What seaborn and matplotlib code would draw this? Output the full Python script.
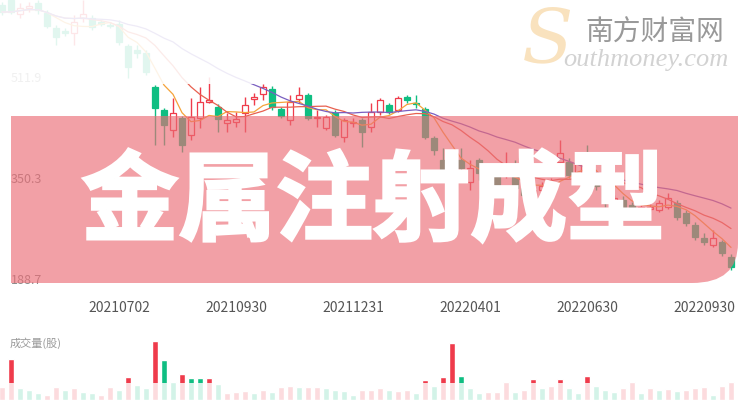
import numpy as np
import pandas as pd
import matplotlib
matplotlib.use("Agg")
import matplotlib.pyplot as plt
import matplotlib.patheffects as pe
from matplotlib.path import Path
from matplotlib.patches import PathPatch, Rectangle
import seaborn as sns

# weekly K-line (price)
opens = [627, 635, 613, 622, 630, 614, 590, 585, 582, 606,
         606, 600, 595, 597, 561, 555, 550, 496, 459, 427,
         446, 419, 446, 472, 464, 438, 440, 454, 477, 485,
         493, 461, 443, 477, 483, 446, 430, 454, 416, 438,
         443, 432, 456, 467, 459, 480, 470, 461, 414, 379,
         387, 379, 344, 379, 350, 355, 360, 371, 334, 323,
         331, 334, 376, 376, 355, 379, 353, 339, 310, 315,
         307, 301, 301, 299, 304, 310, 294, 275, 254, 243,
         248, 224]
closes = [616, 616, 622, 625, 619, 593, 576, 582, 600, 613,
          592, 597, 593, 568, 528, 550, 520, 462, 435, 454,
          403, 448, 472, 475, 445, 443, 445, 467, 480, 496,
          464, 449, 472, 483, 446, 448, 448, 419, 443, 440,
          424, 456, 475, 456, 478, 475, 469, 416, 395, 363,
          371, 366, 366, 358, 360, 339, 368, 334, 323, 331,
          337, 344, 390, 355, 374, 358, 337, 310, 318, 304,
          299, 304, 304, 310, 318, 288, 278, 256, 248, 254,
          230, 208]
highs = [632, 640, 630, 632, 635, 619, 595, 590, 611, 635,
         611, 603, 600, 603, 565, 563, 555, 499, 462, 478,
         449, 478, 496, 512, 469, 454, 456, 480, 486, 501,
         497, 464, 483, 496, 486, 459, 451, 459, 446, 446,
         446, 470, 478, 470, 481, 483, 483, 464, 417, 398,
         395, 398, 379, 382, 366, 360, 392, 379, 339, 337,
         344, 350, 411, 382, 379, 403, 358, 344, 323, 321,
         312, 309, 309, 315, 326, 315, 299, 280, 262, 267,
         251, 229]
lows = [611, 613, 606, 616, 613, 590, 563, 577, 563, 600,
        587, 593, 590, 563, 510, 542, 515, 403, 403, 416,
        392, 411, 430, 470, 424, 424, 432, 424, 467, 475,
        459, 446, 435, 470, 443, 432, 427, 416, 408, 432,
        400, 424, 451, 453, 456, 470, 462, 413, 387, 355,
        360, 355, 331, 347, 344, 331, 350, 323, 315, 318,
        326, 328, 371, 350, 350, 355, 331, 304, 305, 299,
        294, 297, 297, 296, 301, 283, 273, 251, 243, 240,
        225, 203]

# volume (arbitrary units) and its colour (1 = red, 0 = green)
volumes = [13, 41, 12, 10, 7, 5, 13, 10, 12, 8,
           7, 5, 13, 10, 23, 15, 12, 59, 40, 18,
           26, 22, 22, 22, 16, 7, 8, 9, 7, 10,
           8, 13, 14, 13, 13, 13, 12, 10, 9, 5,
           10, 10, 12, 10, 9, 10, 7, 20, 14, 23,
           57, 24, 12, 7, 8, 8, 18, 8, 10, 21,
           12, 14, 21, 12, 7, 24, 14, 10, 8, 12,
           18, 7, 12, 10, 11, 9, 10, 12, 13, 5,
           14, 18]
vol_up = [1, 1, 0, 0, 0, 1, 1, 0, 1, 0,
          0, 1, 1, 0, 1, 0, 0, 1, 0, 0,
          1, 0, 0, 1, 0, 1, 1, 1, 0, 1,
          0, 1, 1, 0, 1, 1, 0, 0, 0, 0,
          1, 1, 1, 0, 1, 1, 0, 1, 0, 1,
          1, 0, 0, 0, 1, 1, 1, 0, 1, 1,
          0, 1, 1, 0, 0, 1, 0, 0, 0, 1,
          1, 0, 1, 0, 1, 0, 1, 1, 1, 0,
          1, 1]

tick_pos = [13, 26, 39, 52, 65, 78]
tick_labels = ["20210702", "20210930", "20211231", "20220401", "20220630", "20220930"]
price_ticks = [511.9, 350.3, 188.7]
title = "金属注射成型"

RED = "#EF3B4B"
GREEN = "#0FBE82"

sns.set_theme(style="white")
plt.rcParams['font.family'] = ['Noto Sans CJK SC', 'DejaVu Sans']

df = pd.DataFrame({"open": opens, "close": closes, "high": highs, "low": lows,
                   "vol": volumes})
df["idx"] = np.arange(len(df))
df["dir"] = np.where(np.array(vol_up) == 1, "up", "down")
df["ma5"] = df["close"].rolling(5, min_periods=1).mean()
df["ma10"] = df["close"].rolling(10, min_periods=1).mean()
df["ma20"] = df["close"].rolling(20, min_periods=1).mean()

fig = plt.figure(figsize=(7.5, 4), dpi=100, facecolor="white")
xlim = (-2 / 9, 748 / 9)

# price panel
ax = fig.add_axes([0, 1 - 283 / 400, 1, 283 / 400])
ax.set_facecolor("none")
up = df["close"] >= df["open"]
cols = np.where(up, RED, GREEN)
ax.vlines(df["idx"], df["low"], df["high"], colors=cols, lw=1, zorder=2)
bottoms = np.minimum(df["open"], df["close"])
heights = np.maximum((df["close"] - df["open"]).abs(), 1.2)
ax.bar(df["idx"], heights, bottom=bottoms, width=0.74,
       color=np.where(up, "white", GREEN), edgecolor=cols, linewidth=0.9, zorder=3)
sns.lineplot(x=df["idx"], y=df["ma5"], ax=ax, color="#F5A33A", lw=0.9, zorder=4)
sns.lineplot(x=df["idx"], y=df["ma10"], ax=ax, color="#E8604F", lw=0.9, zorder=4)
sns.lineplot(x=df["idx"], y=df["ma20"], ax=ax, color="#7A5FC0", lw=0.9, zorder=4)
ax.set_xlim(*xlim)
ax.set_ylim(182.3, 635.1)
ax.set_xlabel("")
ax.set_ylabel("")
ax.set_xticks(tick_pos)
ax.set_xticklabels(tick_labels, fontsize=10, color="#555555")
ax.set_yticks(price_ticks)
ax.set_yticklabels([f"{v:.1f}" for v in price_ticks], fontsize=9, color="#8a8a8a")
ax.tick_params(axis="x", length=0, pad=13)
ax.tick_params(axis="y", length=0, pad=-8)
for lab in ax.get_yticklabels():
    lab.set_horizontalalignment("left")
for s in ax.spines.values():
    s.set_visible(False)

# volume panel
vx = fig.add_axes([0, 0, 1, 60 / 400])
vx.set_facecolor("none")
sns.barplot(data=df, x="idx", y="vol", hue="dir", palette={"up": RED, "down": GREEN},
            native_scale=True, dodge=False, width=0.7, saturation=1, legend=False, ax=vx)
vx.set_xlim(*xlim)
vx.set_ylim(0, 60)
vx.set_axis_off()
fig.text(10 / 750, 1 - 343 / 400, "成交量(股)", fontsize=8, color="#9a9a9a", va="center")

# overlay decorations in pixel space
ov = fig.add_axes([0, 0, 1, 1])
ov.set_xlim(0, 750)
ov.set_ylim(400, 0)
ov.set_axis_off()
ov.patch.set_alpha(0)
ov.add_patch(Rectangle((0, 0), 750, 84, color="white", alpha=0.88, lw=0, zorder=1))
ov.add_patch(Rectangle((0, 383), 750, 17, color="white", alpha=0.82, lw=0, zorder=1))

verts = [(11, 116), (738, 116), (738, 243), (738, 283), (692, 283), (11, 283), (11, 116)]
codes = [Path.MOVETO, Path.LINETO, Path.LINETO, Path.CURVE3, Path.CURVE3,
         Path.LINETO, Path.CLOSEPOLY]
ov.add_patch(PathPatch(Path(verts, codes), facecolor="#EB6D76", alpha=0.65, lw=0, zorder=2))
ov.text(373, 204, title, ha="center", va="center", fontsize=70, fontweight="heavy",
        color="white", zorder=5,
        path_effects=[pe.withStroke(linewidth=2, foreground="white", joinstyle="miter")])

# watermark
ov.text(548, 42, "S", ha="center", va="center", fontsize=54, fontstyle="italic",
        family="DejaVu Serif", color="#F9E2BE", zorder=5)
ov.text(655, 33, "南方财富网", ha="center", va="center", fontsize=20, fontweight="light",
        color="#999999", zorder=6)
ov.text(563, 60, "outhmoney.com", ha="left", va="center", fontsize=19, fontstyle="italic",
        family="Liberation Serif", color="#d2d2d2", zorder=6)

fig.savefig("out.png", dpi=100, facecolor="white")
